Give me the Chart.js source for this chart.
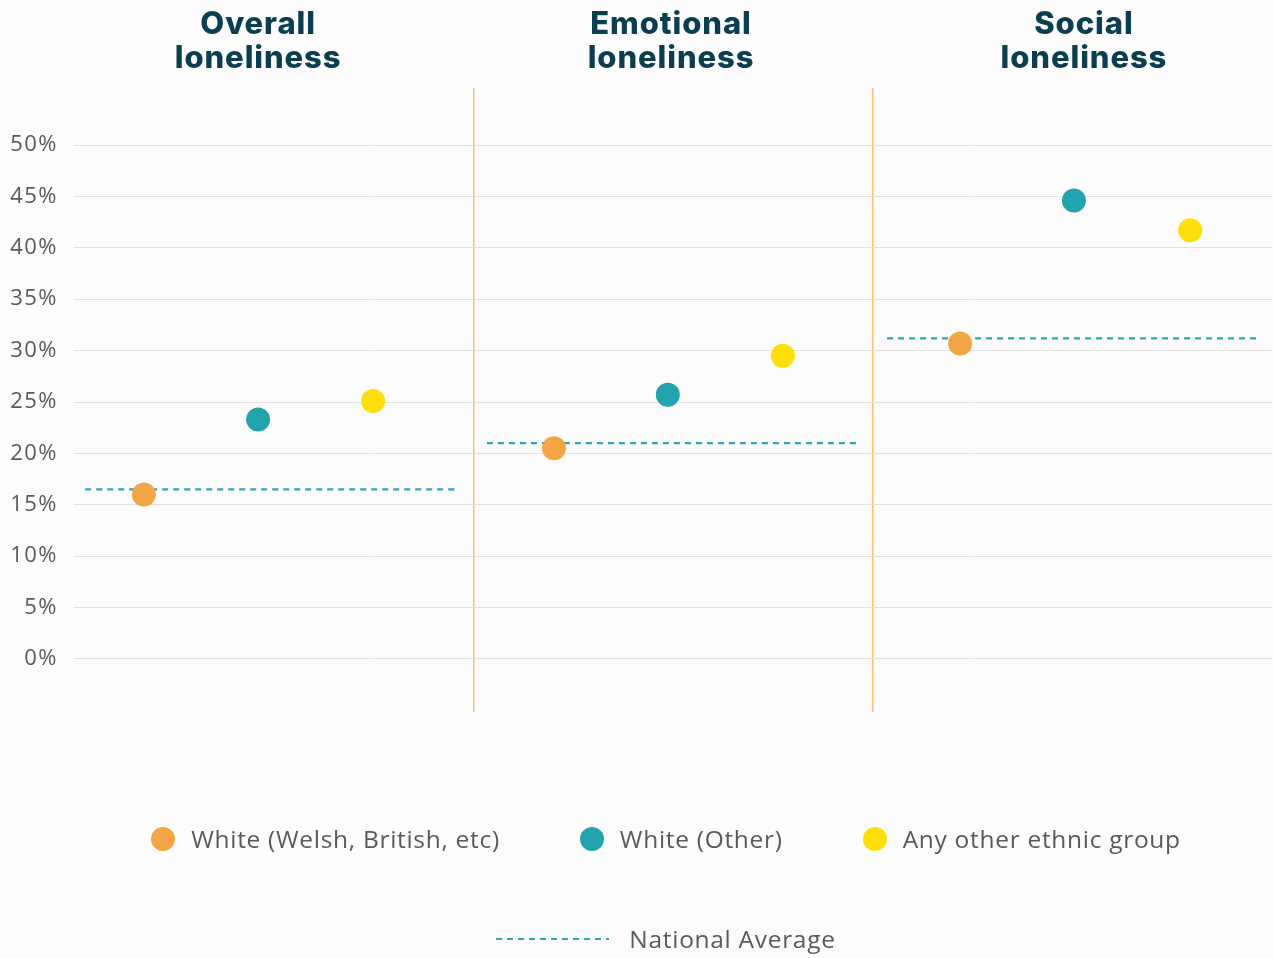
<!DOCTYPE html>
<html>
<head>
<meta charset="utf-8">
<script src="https://cdn.jsdelivr.net/npm/chart.js@4"></script>
<style>
  html, body { margin: 0; padding: 0; background: #fcfcfd; }
  #wrap { position: relative; width: 1274px; height: 958px; }
  #chart { position: absolute; left: 0; top: 0; }
  .legend-row { position: absolute; left: 29px; width: 1274px; display: flex; justify-content: center; align-items: center; gap: 80px;
    font-family: "Open Sans", sans-serif; font-size: 24.5px; letter-spacing: 0.7px; color: #5a5a5a; }
  .legend-item { display: flex; align-items: center; gap: 16px; }
  .dot { width: 24px; height: 24px; border-radius: 50%; display: inline-block; }
</style>
</head>
<body>
<div id="wrap">
  <canvas id="chart" width="1274" height="958"></canvas>
  <div class="legend-row" id="legendPoints" style="top: 822px;"></div>
  <div class="legend-row" id="legendAvg" style="top: 922px;"></div>
</div>
<script>
// Painéis (um por tipo de solidão)
const panels = [['Overall', 'loneliness'], ['Emotional', 'loneliness'], ['Social', 'loneliness']];

// Grupos étnicos
const groupNames = ['White (Welsh, British, etc)', 'White (Other)', 'Any other ethnic group'];
const groupColors = ['#f4a646', '#23a3ad', '#fde00b'];

// Percentagens por grupo, em cada painel
const whiteWelsh = [16.0, 20.5, 30.7];
const whiteOther = [23.3, 25.7, 44.6];
const otherEthnic = [25.1, 29.5, 41.7];
const nationalAverage = [16.5, 21.0, 31.2];

// Posição horizontal de cada ponto dentro do painel (0 a 1)
const xWhiteWelsh = [0.175, 0.202, 0.219];
const xWhiteOther = [0.461, 0.487, 0.504];
const xOtherEthnic = [0.749, 0.775, 0.795];
const avgStart = [0.028, 0.034, 0.036];
const avgEnd = [0.954, 0.963, 0.965];
const titleX = [0.461, 0.495, 0.529];

// Marcas do eixo Y
const yTicks = [0, 5, 10, 15, 20, 25, 30, 35, 40, 45, 50];

const seriesValues = [whiteWelsh, whiteOther, otherEthnic];
const seriesX = [xWhiteWelsh, xWhiteOther, xOtherEthnic];

const pointDatasets = seriesValues.map((vals, s) => ({
    type: 'scatter',
    label: groupNames[s],
    data: vals.map((v, i) => ({ x: i + seriesX[s][i], y: v })),
    backgroundColor: groupColors[s],
    borderWidth: 0,
    pointRadius: 12,
    pointHoverRadius: 12,
    order: 0
}));

const avgDatasets = nationalAverage.map((v, i) => ({
    type: 'line',
    label: 'National Average',
    data: [{ x: i + avgStart[i], y: v }, { x: i + avgEnd[i], y: v }],
    borderColor: '#2aa8b3',
    borderWidth: 2.2,
    borderDash: [6, 5],
    pointRadius: 0,
    fill: false,
    order: 1
}));

// Espaçamento das letras nos rótulos do eixo
const tickSpacing = {
    id: 'tickSpacing',
    beforeDraw(chart) { chart.ctx.letterSpacing = '1.5px'; }
};

// Títulos dos painéis por cima da área do gráfico
const panelTitles = {
    id: 'panelTitles',
    afterDraw(chart) {
        const ctx = chart.ctx;
        const x = chart.scales.x;
        ctx.save();
        ctx.fillStyle = '#0b3f50';
        ctx.font = '800 31px Inter, sans-serif';
        ctx.letterSpacing = '0.9px';
        ctx.textAlign = 'center';
        ctx.textBaseline = 'middle';
        panels.forEach((lines, i) => {
            const cx = x.getPixelForValue(i + titleX[i]);
            ctx.fillText(lines[0], cx, 25);
            ctx.fillText(lines[1], cx, 59);
        });
        ctx.restore();
    }
};

new Chart(document.getElementById('chart'), {
    data: { datasets: [...pointDatasets, ...avgDatasets] },
    options: {
        responsive: false,
        animation: false,
        layout: { autoPadding: false, padding: { top: 88, bottom: 246, left: 0, right: 2 } },
        plugins: {
            legend: { display: false },
            tooltip: { enabled: false }
        },
        scales: {
            x: {
                type: 'linear',
                min: 0,
                max: 3,
                afterBuildTicks: (scale) => { scale.ticks = [{ value: 1 }, { value: 2 }]; },
                grid: { color: '#f8c27e', lineWidth: 1.5, drawTicks: false },
                border: { display: false },
                ticks: { display: false }
            },
            y: {
                min: -5.16,
                max: 55.55,
                afterBuildTicks: (scale) => { scale.ticks = yTicks.map(v => ({ value: v })); },
                afterFit: (scale) => { scale.width = 74; },
                grid: { color: '#e2e2e4', lineWidth: 1, drawTicks: false },
                border: { display: false },
                ticks: {
                    padding: 16,
                    color: '#5a5a5a',
                    font: { family: 'Open Sans', size: 22 },
                    callback: (v) => v + '%'
                }
            }
        }
    },
    plugins: [tickSpacing, panelTitles]
});

// Legenda em HTML: grupos na primeira linha, média nacional na segunda
const legendPoints = document.getElementById('legendPoints');
groupNames.forEach((name, i) => {
    const item = document.createElement('div');
    item.className = 'legend-item';
    item.innerHTML = `<span class="dot" style="background:${groupColors[i]}"></span><span>${name}</span>`;
    legendPoints.appendChild(item);
});
document.getElementById('legendAvg').innerHTML = `
    <div class="legend-item" style="gap:20px">
        <svg width="113" height="4"><line x1="0" y1="2" x2="113" y2="2" stroke="#2aa8b3" stroke-width="2" stroke-dasharray="6 5"/></svg>
        <span>National Average</span>
    </div>`;
</script>
</body>
</html>
